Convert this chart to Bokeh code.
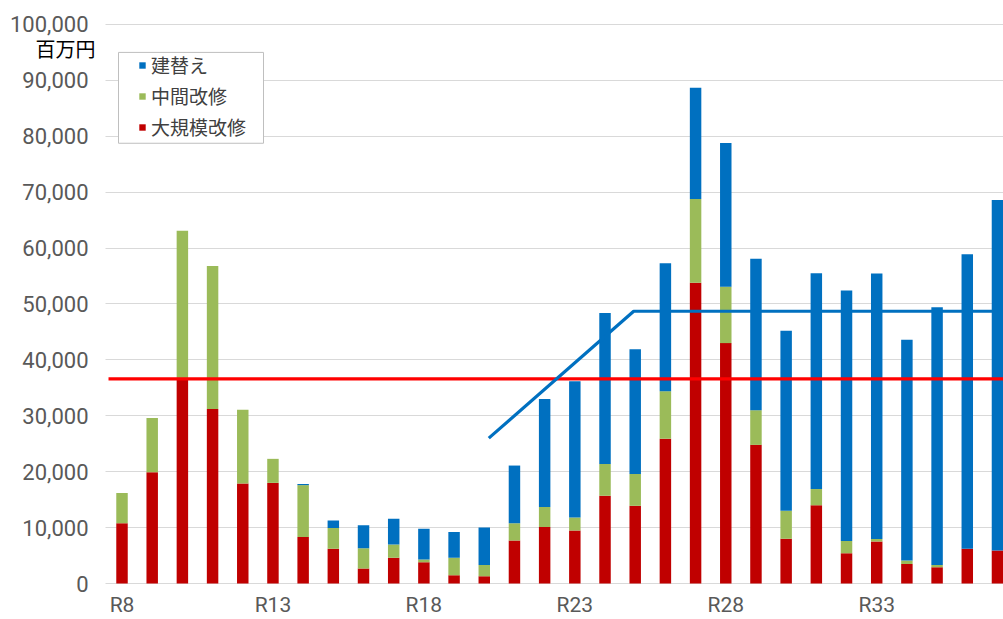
from bokeh.plotting import figure
from bokeh.models import (Range1d, FixedTicker, NumeralTickFormatter, Legend,
                          LegendItem, Label, BoxAnnotation, ColumnDataSource)
from bokeh.embed import file_html
from bokeh.resources import INLINE

# ---- data (百万円) ----
years = ["R8", "R9", "R10", "R11", "R12", "R13", "R14", "R15", "R16", "R17",
         "R18", "R19", "R20", "R21", "R22", "R23", "R24", "R25", "R26", "R27",
         "R28", "R29", "R30", "R31", "R32", "R33", "R34", "R35", "R36", "R37"]
major_repair = [10800, 19900, 36600, 31200, 17900, 18000, 8300, 6200, 2700, 4600,
                3800, 1500, 1300, 7700, 10100, 9500, 15700, 13900, 25900, 53800,
                43000, 24800, 8000, 14000, 5400, 7500, 3500, 2900, 6200, 5900]
mid_repair = [5400, 9700, 26500, 25600, 13200, 4300, 9300, 3750, 3600, 2400,
              500, 3100, 2000, 3100, 3600, 2300, 5700, 5700, 8500, 15000,
              10100, 6200, 5000, 2900, 2200, 450, 600, 400, 0, 0]
rebuild = [0, 0, 0, 0, 0, 0, 200, 1300, 4100, 4600,
           5500, 4600, 6700, 10300, 19300, 24400, 27000, 22300, 22900, 19900,
           25700, 27100, 32200, 38600, 44800, 47500, 39500, 46100, 52700, 62700]
shown_labels = ["R8", "R13", "R18", "R23", "R28", "R33"]
series_names = ["建替え", "中間改修", "大規模改修"]
unit_label = "百万円"
y_ticks = [0, 10000, 20000, 30000, 40000, 50000, 60000, 70000, 80000, 90000, 100000]

# reference lines
avg_level = 36600
trend_x = [12.15, 16.95, 29.5]
trend_y = [26000, 48700, 48700]

# ---- layout geometry ----
W, H = 1003, 619
top_px, base_px = 24, 584            # pixel rows of 100,000 and 0
frame_bottom_px = 593                # bottom edge of the drawing frame
gutter_px = 105                      # where the plotting area starts
plot_left, x_hi = -0.547, 29.2
y_max = 100000
ppu = (W - gutter_px) / (x_hi - plot_left)
x_lo = plot_left - gutter_px / ppu


def px_x(px):
    return x_lo + px / ppu


def px_y(py):
    return (base_px - py) / (base_px - top_px) * y_max


idx = list(range(len(years)))
src = ColumnDataSource(dict(x=idx, major=major_repair, mid=mid_repair, reb=rebuild))

p = figure(width=W, height=H, output_backend="svg", toolbar_location=None,
           x_range=Range1d(x_lo, x_hi),
           y_range=Range1d(px_y(frame_bottom_px), px_y(0)),
           min_border_left=0, min_border_right=0, min_border_top=0,
           min_border_bottom=H - frame_bottom_px)
p.outline_line_color = None
p.background_fill_color = "white"

RED, GREEN, BLUE = "#C00000", "#9BBB59", "#0070C0"

# grid lines only across the plotting area
p.xgrid.grid_line_color = None
grid = p.ygrid[0]
grid.ticker = FixedTicker(ticks=y_ticks)
if "cross_bounds" in grid.properties():
    grid.cross_bounds = (plot_left, x_hi)
    grid.grid_line_color = "#D9D9D9"
    grid.grid_line_width = 1
else:
    grid.grid_line_color = None
    p.segment(x0=[plot_left] * len(y_ticks), x1=[x_hi] * len(y_ticks),
              y0=y_ticks, y1=y_ticks, line_color="#D9D9D9", line_width=1)

rs = p.vbar_stack(["major", "mid", "reb"], x="x", width=0.38,
                  color=[RED, GREEN, BLUE], line_color=None, source=src)

p.line([plot_left + 0.1, x_hi], [avg_level, avg_level], line_color="#FF0000",
       line_width=3.2)
p.line(trend_x, trend_y, line_color=BLUE, line_width=3.2)

# axes
p.yaxis.ticker = FixedTicker(ticks=y_ticks)
p.yaxis.formatter = NumeralTickFormatter(format="0,0")
p.yaxis.fixed_location = plot_left
p.xaxis.ticker = FixedTicker(ticks=[years.index(s) for s in shown_labels])
p.xaxis.major_label_overrides = {years.index(s): s for s in shown_labels}
for ax in (p.xaxis[0], p.yaxis[0]):
    ax.axis_line_color = None
    ax.major_tick_line_color = None
    ax.minor_tick_line_color = None
    ax.major_tick_out = 0
    ax.major_tick_in = 0
    ax.major_label_text_color = "#595959"
    ax.major_label_text_font = "Roboto"
p.yaxis.major_label_text_font_size = "22px"
p.xaxis.major_label_text_font_size = "21px"
p.yaxis.major_label_standoff = 17
p.xaxis.major_label_standoff = 0

p.add_layout(Label(x=plot_left, y=px_y(48), x_offset=-10, text=unit_label,
                   text_align="right", text_baseline="middle",
                   text_font="Noto Sans CJK JP", text_font_size="20px",
                   text_color="#000000"))

# legend frame
p.add_layout(BoxAnnotation(left=px_x(118), right=px_x(263), top=px_y(52),
                           bottom=px_y(143), fill_color="white", fill_alpha=1,
                           line_color="#BFBFBF", line_alpha=1, line_width=1))

legend = Legend(items=[LegendItem(label=series_names[0], renderers=[rs[2]]),
                       LegendItem(label=series_names[1], renderers=[rs[1]]),
                       LegendItem(label=series_names[2], renderers=[rs[0]])],
                location=(138, frame_bottom_px - 141))
legend.border_line_color = None
legend.background_fill_alpha = 0
legend.label_text_font = "Noto Sans CJK JP"
legend.label_text_font_size = "19px"
legend.label_text_color = "#404040"
legend.glyph_width = 8
legend.glyph_height = 8
legend.label_height = 20
legend.label_standoff = 5
legend.spacing = 4
legend.padding = 0
legend.margin = 0
p.add_layout(legend)

open("out.html", "w").write(file_html(p, INLINE))
